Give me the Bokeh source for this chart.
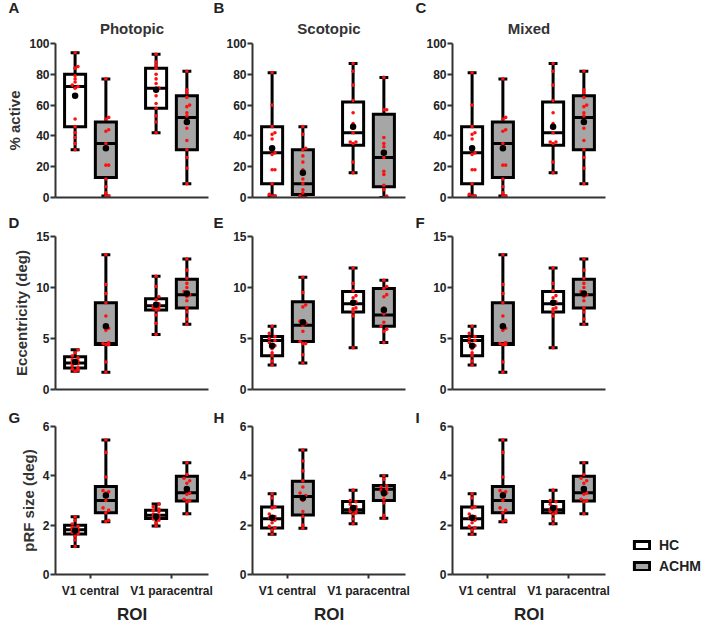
from bokeh.plotting import figure
from bokeh.layouts import column, row
from bokeh.models import Range1d, FixedTicker, Title, Legend, LegendItem, ColumnDataSource
from bokeh.embed import file_html
from bokeh.resources import INLINE

REGIONS = ["V1 central", "V1 paracentral"]
GROUPS = ["HC", "ACHM"]
XTITLE = "ROI"

# ---- % active ----
ACT_PHO_HC_C = [94, 85, 84, 79, 77, 75, 73, 72, 71, 51, 46, 42, 39, 35, 31]
ACT_PHO_AC_C = [77, 52, 51, 44, 43, 35, 33, 21, 21, 12, 7, 3, 1, 1]
ACT_PHO_HC_P = [93, 88, 86, 84, 80, 77, 74, 71, 70, 66, 61, 58, 53, 49, 42]
ACT_PHO_AC_P = [82, 70, 68, 65, 60, 59, 55, 53, 49, 45, 37, 31, 26, 19, 9]
# box stats: min, q1, median, q3, max, mean  (HC central, ACHM central, HC para, ACHM para)
ACT_PHO_BOX = [[31, 46, 72, 80, 94, 66], [1, 13, 35, 49, 77, 32],
               [42, 58, 71, 84, 93, 70], [9, 31, 52, 66, 82, 49]]

ACT_SCO_HC_C = [81, 60, 46, 42, 41, 38, 29, 28, 18, 18, 9, 2, 1, 1]
ACT_SCO_AC_C = [46, 41, 32, 31, 27, 23, 18, 12, 9, 5, 3, 1, 0, 0]
ACT_SCO_HC_P = [87, 82, 73, 63, 55, 48, 45, 42, 36, 36, 35, 23, 16]
ACT_SCO_AC_P = [78, 57, 57, 39, 35, 33, 30, 26, 17, 15, 8, 5, 1, 0]
ACT_SCO_BOX = [[1, 9, 29, 46, 81, 32], [0, 2, 9, 31, 46, 16],
               [16, 34, 42, 62, 87, 46], [0, 7, 26, 54, 78, 29]]

# ---- Eccentricity ----
ECC_PHO_HC_C = [3.9, 3.6, 3.3, 3.1, 2.9, 2.8, 2.6, 2.5, 2.3, 2.1, 2.0, 1.9, 1.8]
ECC_PHO_AC_C = [13.2, 10.3, 9.4, 8.5, 7.2, 6.0, 5.8, 4.6, 4.5, 4.4, 4.4, 2.7, 1.7]
ECC_PHO_HC_P = [11.1, 10.1, 9.1, 8.8, 8.4, 8.2, 8.2, 8.0, 7.9, 7.8, 7.3, 6.5, 5.4]
ECC_PHO_AC_P = [12.8, 11.7, 10.9, 10.4, 10.0, 9.6, 9.3, 9.1, 8.7, 8.0, 7.6, 6.9, 6.4]
ECC_PHO_BOX = [[1.8, 2.1, 2.6, 3.2, 3.9, 2.7], [1.7, 4.4, 4.5, 8.5, 13.2, 6.2],
               [5.4, 7.8, 8.2, 8.9, 11.1, 8.3], [6.4, 8.0, 9.3, 10.8, 12.8, 9.4]]

ECC_SCO_HC_C = [6.2, 5.5, 5.2, 5.0, 4.8, 4.6, 4.3, 4.0, 3.6, 3.3, 2.8, 2.4]
ECC_SCO_AC_C = [11.0, 9.5, 8.3, 8.1, 6.7, 6.5, 6.3, 5.7, 4.7, 4.5, 4.5, 3.4, 2.6]
ECC_SCO_HC_P = [11.9, 10.4, 9.7, 9.2, 9.0, 8.6, 8.4, 8.0, 7.9, 7.6, 7.2, 4.1]
ECC_SCO_AC_P = [10.7, 10.1, 9.9, 9.3, 9.1, 8.0, 7.4, 6.6, 6.2, 5.9, 5.7, 4.6]
ECC_SCO_BOX = [[2.4, 3.3, 4.8, 5.2, 6.2, 4.3], [2.6, 4.7, 6.3, 8.6, 11.0, 6.6],
               [4.1, 7.6, 8.4, 9.6, 11.9, 8.5], [4.6, 6.2, 7.3, 9.9, 10.7, 7.8]]

# ---- pRF size ----
SIZ_PHO_HC_C = [2.34, 2.2, 2.05, 1.95, 1.9, 1.85, 1.8, 1.75, 1.7, 1.65, 1.55, 1.4, 1.14]
SIZ_PHO_AC_C = [5.45, 4.95, 3.95, 3.4, 3.35, 3.3, 3.0, 2.7, 2.6, 2.5, 2.2, 2.15]
SIZ_PHO_HC_P = [2.86, 2.75, 2.65, 2.6, 2.55, 2.45, 2.4, 2.35, 2.3, 2.25, 2.2, 2.1, 1.97]
SIZ_PHO_AC_P = [4.53, 4.05, 3.9, 3.8, 3.7, 3.5, 3.3, 3.25, 3.05, 3.0, 2.95, 2.46]
SIZ_PHO_BOX = [[1.14, 1.64, 1.81, 2.0, 2.34, 1.78], [2.14, 2.5, 3.0, 3.57, 5.45, 3.2],
               [1.97, 2.27, 2.4, 2.6, 2.86, 2.35], [2.46, 2.98, 3.31, 3.98, 4.53, 3.47]]

SIZ_SCO_HC_C = [3.27, 3.1, 2.75, 2.7, 2.45, 2.35, 2.3, 2.2, 2.1, 1.95, 1.9, 1.8, 1.63]
SIZ_SCO_AC_C = [5.05, 4.6, 4.2, 3.8, 3.55, 3.3, 3.2, 3.15, 3.0, 2.55, 2.35, 2.0, 1.87]
SIZ_SCO_HC_P = [3.42, 3.0, 2.95, 2.85, 2.75, 2.65, 2.6, 2.55, 2.5, 2.45, 2.25, 2.06]
SIZ_SCO_AC_P = [4.0, 3.85, 3.6, 3.55, 3.45, 3.4, 3.3, 3.2, 3.05, 2.9, 2.4, 2.28]
SIZ_SCO_BOX = [[1.63, 1.89, 2.26, 2.74, 3.27, 2.3], [1.87, 2.41, 3.16, 3.78, 5.05, 3.1],
               [2.06, 2.5, 2.63, 2.96, 3.42, 2.7], [2.28, 3.0, 3.46, 3.61, 4.0, 3.3]]

TITLES = ["Photopic", "Scotopic", "Mixed"]
YLABELS = ["% active", "Eccentricity (deg)", "pRF size (deg)"]
YTICKS = [[0, 20, 40, 60, 80, 100], [0, 5, 10, 15], [0, 2, 4, 6]]
YMAX = [100, 15, 6]
LETTERS = [["A", "B", "C"], ["D", "E", "F"], ["G", "H", "I"]]


def mixed(pho, sco):
    # Mixed = HC from scotopic, ACHM from photopic
    return [sco[0], pho[1], sco[2], pho[3]]


DATA = [
    [([ACT_PHO_HC_C, ACT_PHO_AC_C, ACT_PHO_HC_P, ACT_PHO_AC_P], ACT_PHO_BOX),
     ([ACT_SCO_HC_C, ACT_SCO_AC_C, ACT_SCO_HC_P, ACT_SCO_AC_P], ACT_SCO_BOX)],
    [([ECC_PHO_HC_C, ECC_PHO_AC_C, ECC_PHO_HC_P, ECC_PHO_AC_P], ECC_PHO_BOX),
     ([ECC_SCO_HC_C, ECC_SCO_AC_C, ECC_SCO_HC_P, ECC_SCO_AC_P], ECC_SCO_BOX)],
    [([SIZ_PHO_HC_C, SIZ_PHO_AC_C, SIZ_PHO_HC_P, SIZ_PHO_AC_P], SIZ_PHO_BOX),
     ([SIZ_SCO_HC_C, SIZ_SCO_AC_C, SIZ_SCO_HC_P, SIZ_SCO_AC_P], SIZ_SCO_BOX)],
]

FONT = "Liberation Sans"
TXT = "#222222"
GRAY = "#a6a6a6"

COL_W = [213, 202, 287]
COL_L = [55, 39, 37]
LETTER_OFF = [-47, -39, -37]
FRAME_W = 153
ROW_H = [205, 192, 228]
ROW_T = [43, 31, 29]
FRAME_H = [154, 153, 152]
LETTER_STANDOFF = [-8, 12, 1]

X0, X1 = 0.568, 2.457
PPU = FRAME_W / (X1 - X0)
OFF = 0.19
BOXW = 0.26
CAPW = 0.11


def make_panel(r, c, pts, box, with_legend=False):
    fh = FRAME_H[r]
    if with_legend:
        fw = COL_W[c] - COL_L[c]
        right = 0
    else:
        fw = FRAME_W
        right = COL_W[c] - COL_L[c] - fw
    p = figure(width=COL_W[c], height=ROW_H[r], output_backend="svg", toolbar_location=None,
               x_range=Range1d(X0, X0 + fw / PPU), y_range=Range1d(0, YMAX[r]),
               min_border_left=COL_L[c], min_border_right=right,
               min_border_top=ROW_T[r], min_border_bottom=ROW_H[r] - ROW_T[r] - fh)
    p.outline_line_color = None
    p.grid.visible = False
    p.background_fill_color = "white"
    p.border_fill_color = "white"

    xs = [1 - OFF, 1 + OFF, 2 - OFF, 2 + OFF]
    fills = ["white", GRAY, "white", GRAY]
    mn = [b[0] for b in box]; q1 = [b[1] for b in box]; md = [b[2] for b in box]
    q3 = [b[3] for b in box]; mx = [b[4] for b in box]; mean = [b[5] for b in box]
    src = ColumnDataSource(dict(x=xs, lo=mn, q1=q1, md=md, q3=q3, hi=mx, mean=mean, fill=fills,
                                xl=[x - BOXW / 2 for x in xs], xr=[x + BOXW / 2 for x in xs],
                                cl=[x - CAPW / 2 for x in xs], cr=[x + CAPW / 2 for x in xs]))
    lw = 3
    p.segment("x", "q3", "x", "hi", source=src, line_color="black", line_width=lw)
    p.segment("x", "lo", "x", "q1", source=src, line_color="black", line_width=lw)
    p.segment("cl", "hi", "cr", "hi", source=src, line_color="black", line_width=lw)
    p.segment("cl", "lo", "cr", "lo", source=src, line_color="black", line_width=lw)
    bars = p.vbar(x="x", width=BOXW, top="q3", bottom="q1", source=src, fill_color="fill",
                  line_color="black", line_width=lw, line_join="miter")
    p.segment("xl", "md", "xr", "md", source=src, line_color="black", line_width=lw)

    # individual subjects (small sideways offset only where values coincide)
    px, py = [], []
    thr = YMAX[r] * 0.02
    for x, vals in zip(xs, pts):
        prev = None
        k = 0
        for v in sorted(vals):
            if prev is not None and abs(v - prev) < thr:
                k += 1
                dx = 0.035 if k % 2 else -0.035
            else:
                k = 0
                dx = 0.0
            px.append(x + dx)
            py.append(v)
            prev = v
    p.scatter(px, py, size=3.6, fill_color="#ff1010", line_color=None)
    p.scatter("x", "mean", source=src, size=6.5, fill_color="black", line_color=None)

    # axes
    for ax in (p.xaxis, p.yaxis):
        ax.axis_line_width = 2
        ax.axis_line_color = "#333333"
        ax.major_tick_line_width = 2
        ax.major_tick_line_color = "#333333"
        ax.minor_tick_line_color = None
        ax.major_tick_in = 0
        ax.major_tick_out = 5
        ax.major_label_text_font = FONT
        ax.major_label_text_font_style = "bold"
        ax.major_label_text_font_size = "12px"
        ax.major_label_text_color = TXT
        ax.major_label_standoff = 1
    p.xaxis.bounds = (X0, X1)
    p.yaxis.ticker = FixedTicker(ticks=YTICKS[r])
    if c == 0:
        p.yaxis.axis_label = YLABELS[r]
        p.yaxis.axis_label_text_font = FONT
        p.yaxis.axis_label_text_font_style = "bold"
        p.yaxis.axis_label_text_font_size = "15px"
        p.yaxis.axis_label_text_color = "#333333"
        p.yaxis.axis_label_standoff = 3
    if r == 2:
        p.xaxis.ticker = FixedTicker(ticks=[1, 2])
        p.xaxis.major_tick_out = 4
        p.xaxis.major_label_standoff = 5
        p.xaxis.major_label_overrides = {1: REGIONS[0], 2: REGIONS[1]}
        p.add_layout(Title(text=XTITLE, align="left", offset=FRAME_W / 2 - 15.1, standoff=4,
                           text_font=FONT, text_font_style="bold", text_font_size="17px",
                           text_color=TXT), "below")
    else:
        p.xaxis.ticker = FixedTicker(ticks=[])
        p.xaxis.major_tick_out = 0
        p.xaxis.major_label_standoff = 0
        p.xaxis.major_label_text_font_size = "0px"

    p.title.text = LETTERS[r][c]
    p.title.align = "left"
    p.title.offset = LETTER_OFF[c]
    p.title.standoff = LETTER_STANDOFF[r]
    p.title.text_font = FONT
    p.title.text_font_style = "bold"
    p.title.text_font_size = "15px"
    p.title.text_color = TXT
    if r == 0:
        p.add_layout(Title(text=TITLES[c], align="center", offset=0, standoff=13,
                           text_font=FONT, text_font_style="bold", text_font_size="15px",
                           text_color="#333333"), "above")

    if with_legend:
        leg = Legend(items=[LegendItem(label=GROUPS[0], renderers=[bars], index=0),
                            LegendItem(label=GROUPS[1], renderers=[bars], index=1)],
                     location=(FRAME_W + 27, 0))
        leg.border_line_color = None
        leg.background_fill_alpha = 0
        leg.padding = 0
        leg.margin = 0
        leg.spacing = 4
        leg.glyph_width = 19
        leg.glyph_height = 10
        leg.label_height = 17
        leg.label_standoff = 8
        leg.label_text_font = FONT
        leg.label_text_font_style = "bold"
        leg.label_text_font_size = "14px"
        leg.label_text_color = TXT
        p.add_layout(leg, "center")
    return p


rows = []
for r in range(3):
    pho, sco = DATA[r]
    panels = []
    for c in range(3):
        if c == 0:
            pts, box = pho
        elif c == 1:
            pts, box = sco
        else:
            pts, box = mixed(pho[0], sco[0]), mixed(pho[1], sco[1])
        panels.append(make_panel(r, c, pts, box, with_legend=(r == 2 and c == 2)))
    rows.append(row(*panels))

layout = column(*rows)
open("out.html", "w").write(file_html(layout, INLINE))
